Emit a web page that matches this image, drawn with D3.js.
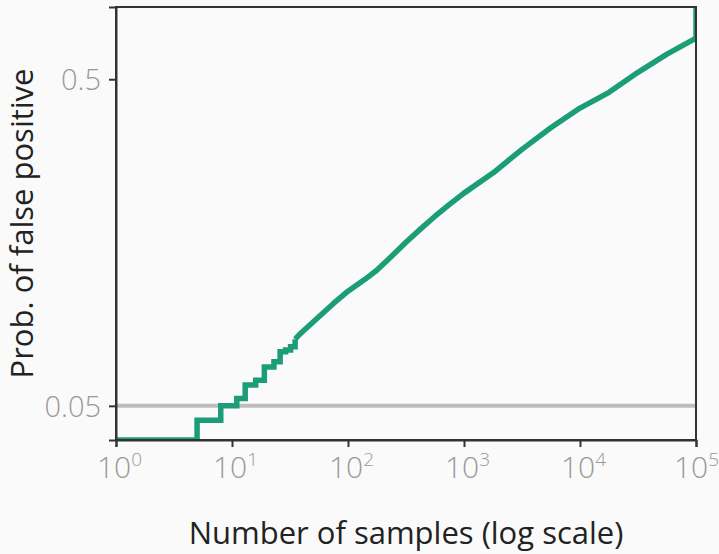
<!DOCTYPE html>
<html>
<head>
<meta charset="utf-8">
<script src="https://cdn.jsdelivr.net/npm/d3@7"></script>
<style>
  body { margin: 0; background: #fafafa; }
  svg { display: block; }
  text { font-family: "Open Sans", "DejaVu Sans", sans-serif; }
</style>
</head>
<body>
<svg id="chart" width="719" height="554"></svg>
<script>
// Early part of the curve: discrete steps (samples, prob.)
var stepN = [1, 5, 8, 11, 13, 16, 19, 23, 26, 29, 32, 35];
var stepP = [0.0393, 0.0452, 0.050, 0.0527, 0.0579, 0.0599, 0.0658, 0.0682, 0.0732, 0.0741, 0.0758, 0.080];
// Later part of the curve
var curveN = [35, 39, 54, 75, 100, 140, 177, 240, 316, 430, 560, 750, 1000, 1800, 3162, 5600, 10000, 17800, 31600, 56200, 100000, 100000];
var curveP = [0.080, 0.0833, 0.0926, 0.1029, 0.1122, 0.122, 0.130, 0.144, 0.1585, 0.175, 0.190, 0.207, 0.224, 0.259, 0.305, 0.355, 0.408, 0.456, 0.525, 0.597, 0.668, 0.832];
var xTicks = [1, 10, 100, 1000, 10000, 100000];
var yTicks = [0.05, 0.5];
var alpha = 0.05;

var margin = {top: 7, right: 23, bottom: 114, left: 116};
var W = 719, H = 554;
var w = W - margin.left - margin.right;
var h = H - margin.top - margin.bottom;

var x = d3.scaleLog().domain([1, 100000]).range([0, w]);
var y = d3.scaleLog().domain([0.0393, 0.832]).range([h, 0]);

var svg = d3.select("#chart");
var G = svg.append("g").attr("transform", "translate(" + margin.left + "," + margin.top + ")");

// Significance level
G.append("line")
    .attr("x1", 0).attr("x2", w)
    .attr("y1", y(alpha)).attr("y2", y(alpha))
    .attr("stroke", "#bdbdbd")
    .attr("stroke-width", 4);

// Clip for the line
svg.append("defs").append("clipPath").attr("id", "clip")
    .append("rect").attr("width", w).attr("height", h);

var steps = stepN.map(function (n, i) { return [n, stepP[i]]; });
var curve = curveN.map(function (n, i) { return [n, curveP[i]]; });

var lineStep = d3.line()
    .x(function (d) { return x(d[0]); })
    .y(function (d) { return y(d[1]); })
    .curve(d3.curveStepAfter);
var lineLin = d3.line()
    .x(function (d) { return x(d[0]); })
    .y(function (d) { return y(d[1]); });

var lines = G.append("g").attr("clip-path", "url(#clip)");
lines.append("path")
    .attr("d", lineStep(steps))
    .attr("fill", "none")
    .attr("stroke", "#1b9e77")
    .attr("stroke-width", 5.5)
    .attr("stroke-linejoin", "miter");
lines.append("path")
    .attr("d", lineLin(curve))
    .attr("fill", "none")
    .attr("stroke", "#1b9e77")
    .attr("stroke-width", 5.5)
    .attr("stroke-linejoin", "round");

// Box
G.append("rect")
    .attr("width", w).attr("height", h)
    .attr("fill", "none")
    .attr("stroke", "#333")
    .attr("stroke-width", 2);

// X axis
var xAxis = G.append("g")
    .attr("transform", "translate(0," + h + ")")
    .call(d3.axisBottom(x).tickValues(xTicks).tickSize(7).tickFormat(""));
xAxis.select(".domain").attr("stroke", "#333").attr("stroke-width", 2);
xAxis.selectAll(".tick line").attr("stroke", "#333").attr("stroke-width", 2);
xAxis.selectAll(".tick").each(function (d) {
    var t = d3.select(this).append("text")
        .attr("y", 38)
        .attr("x", d === 100000 ? 0 : 3)
        .attr("fill", "#999")
        .attr("font-size", 30)
        .attr("font-weight", 300)
        .attr("text-anchor", "middle");
    t.append("tspan").text("10");
    t.append("tspan").attr("dy", -12).attr("font-size", 19).text(Math.round(Math.log10(d)));
});

// Y axis
var yAxis = G.append("g")
    .call(d3.axisLeft(y).tickValues(yTicks).tickSize(7).tickFormat(function (d) { return String(d); }));
yAxis.select(".domain").attr("stroke", "#333").attr("stroke-width", 2);
yAxis.selectAll(".tick line").attr("stroke", "#333").attr("stroke-width", 2);
yAxis.selectAll(".tick text")
    .attr("x", -15)
    .attr("dy", "0.36em")
    .attr("fill", "#999")
    .attr("font-size", 29)
    .attr("font-weight", 300)
    .attr("font-family", "'Open Sans', sans-serif");

// Axis titles
svg.append("text")
    .attr("x", margin.left + w / 2)
    .attr("y", 544)
    .attr("text-anchor", "middle")
    .attr("font-size", 31)
    .attr("fill", "#222")
    .text("Number of samples (log scale)");
svg.append("text")
    .attr("transform", "translate(33," + (margin.top + h / 2) + ") rotate(-90)")
    .attr("text-anchor", "middle")
    .attr("font-size", 31)
    .attr("fill", "#222")
    .text("Prob. of false positive");
</script>
</body>
</html>
